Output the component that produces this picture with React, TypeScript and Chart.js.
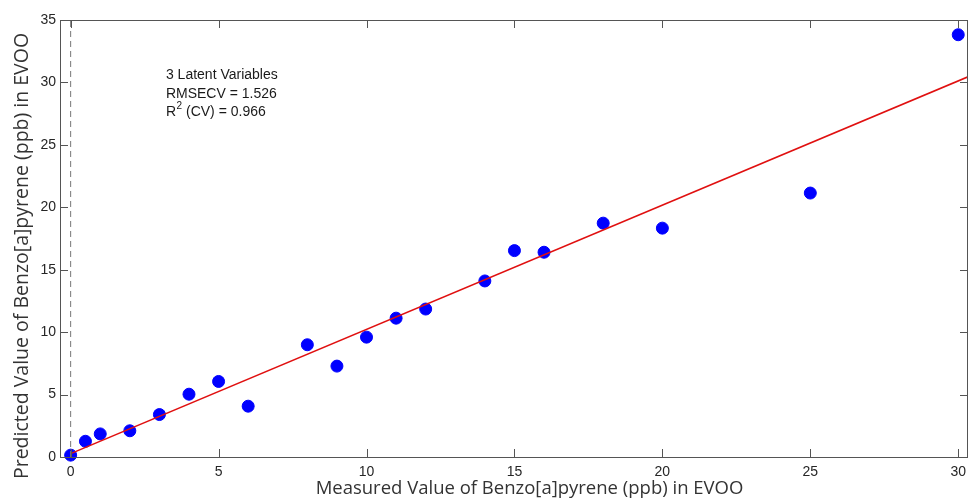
import React, { useEffect, useRef } from "react";
import { Chart, registerables } from "chart.js";

Chart.register(...registerables);

// ---- Data ----
const measured = [0, 0.5, 1, 2, 3, 4, 5, 6, 8, 9, 10, 11, 12, 14, 15, 16, 18, 20, 25, 30];
const predicted = [0.15, 1.26, 1.85, 2.1, 3.4, 5.03, 6.05, 4.07, 8.99, 7.28, 9.6, 11.12, 11.85, 14.1, 16.53, 16.4, 18.73, 18.33, 21.14, 33.82];
const fitX = [0, 30.33];
const fitY = [0.27, 30.45];
const zeroLineX = [0, 0];
const zeroLineY = [0, 35];
const xTickValues = [0, 5, 10, 15, 20, 25, 30];
const yTickValues = [0, 5, 10, 15, 20, 25, 30, 35];
const annotationLines = ["3 Latent Variables", "RMSECV = 1.526", "(CV) = 0.966"];
const xTitle = "Measured Value of Benzo[a]pyrene (ppb) in EVOO";
const yTitle = "Predicted Value of Benzo[a]pyrene (ppb) in EVOO";

const AXIS_COLOR = "#555555";
const TEXT_COLOR = "#262626";
const TITLE_FONT = "'Open Sans', sans-serif";

const boxPlugin = {
  id: "boxTicks",
  afterDatasetsDraw(chart: any) {
    const { ctx, chartArea, scales } = chart;
    const { left, right, top, bottom } = chartArea;
    ctx.save();
    ctx.strokeStyle = AXIS_COLOR;
    ctx.lineWidth = 1;
    ctx.strokeRect(left + 0.5, top + 0.5, right - left - 1, bottom - top);
    const tl = 8;
    ctx.beginPath();
    xTickValues.forEach((v) => {
      const px = Math.round(scales.x.getPixelForValue(v)) + 0.5;
      ctx.moveTo(px, bottom);
      ctx.lineTo(px, bottom - tl);
      ctx.moveTo(px, top);
      ctx.lineTo(px, top + tl);
    });
    yTickValues.forEach((v) => {
      const py = Math.round(scales.y.getPixelForValue(v)) + 0.5;
      ctx.moveTo(left, py);
      ctx.lineTo(left + tl, py);
      ctx.moveTo(right, py);
      ctx.lineTo(right - tl, py);
    });
    ctx.stroke();

    // annotation
    ctx.fillStyle = "#1a1a1a";
    ctx.font = "14px 'Liberation Sans', Arial, sans-serif";
    ctx.textBaseline = "middle";
    ctx.textAlign = "left";
    const ax = scales.x.getPixelForValue(3.22);
    const ys = [30.55, 29.08, 27.6].map((v) => scales.y.getPixelForValue(v));
    ctx.fillText(annotationLines[0], ax, ys[0]);
    ctx.fillText(annotationLines[1], ax, ys[1]);
    ctx.fillText("R", ax, ys[2]);
    const rw = ctx.measureText("R").width;
    ctx.font = "10px 'Liberation Sans', Arial, sans-serif";
    ctx.fillText("2", ax + rw + 0.5, ys[2] - 6);
    const sw = ctx.measureText("2").width;
    ctx.font = "14px 'Liberation Sans', Arial, sans-serif";
    ctx.fillText(" " + annotationLines[2], ax + rw + sw + 0.5, ys[2]);

    // axis titles
    ctx.fillStyle = "#333333";
    ctx.textBaseline = "alphabetic";
    ctx.textAlign = "center";
    ctx.font = `18.5px ${TITLE_FONT}`;
    ctx.fillText(xTitle, 529.5, 494);
    ctx.save();
    ctx.translate(28, 256);
    ctx.rotate(-Math.PI / 2);
    ctx.font = `19.5px ${TITLE_FONT}`;
    ctx.fillText(yTitle, 0, 0);
    ctx.restore();
    ctx.restore();
  },
};

export default function App() {
  const ref = useRef<HTMLCanvasElement>(null);
  useEffect(() => {
    document.body.style.margin = "0";
    const chart = new Chart(ref.current as HTMLCanvasElement, {
      type: "scatter",
      data: {
        datasets: [
          {
            type: "line",
            label: "zero",
            data: zeroLineX.map((x, i) => ({ x, y: zeroLineY[i] })),
            borderColor: "#777777",
            borderWidth: 1,
            borderDash: [6, 4],
            pointRadius: 0,
            fill: false,
          } as any,
          {
            type: "line",
            label: "fit",
            data: fitX.map((x, i) => ({ x, y: fitY[i] })),
            borderColor: "#e01010",
            borderWidth: 1.6,
            pointRadius: 0,
            fill: false,
          } as any,
          {
            label: "samples",
            data: measured.map((x, i) => ({ x, y: predicted[i] })),
            backgroundColor: "#0000ff",
            borderColor: "#0000ff",
            pointRadius: 6,
            pointHoverRadius: 6,
            clip: false,
          } as any,
        ],
      },
      options: {
        animation: false,
        responsive: true,
        maintainAspectRatio: false,
        layout: { padding: { top: 20, right: 1, left: 0, bottom: 0 } },
        plugins: { legend: { display: false }, tooltip: { enabled: false } },
        scales: {
          x: {
            type: "linear",
            min: -0.36,
            max: 30.33,
            grid: {
              display: true,
              drawOnChartArea: false,
              color: "rgba(0,0,0,0)",
              tickColor: "rgba(0,0,0,0)",
              drawTicks: true,
              tickLength: 7,
            },
            border: { display: false },
            ticks: {
              stepSize: 5,
              includeBounds: false,
              padding: 0,
              color: TEXT_COLOR,
              font: { family: "'Liberation Sans', Arial, sans-serif", size: 14 },
              maxRotation: 0,
            },
            title: { display: false },
            afterFit: (s: any) => {
              s.height = 42;
            },
          },
          y: {
            type: "linear",
            min: 0,
            max: 35,
            grid: { display: false, drawTicks: false },
            border: { display: false },
            ticks: {
              stepSize: 5,
              padding: 4,
              color: TEXT_COLOR,
              font: { family: "'Liberation Sans', Arial, sans-serif", size: 14 },
            },
            title: { display: false },
            afterFit: (s: any) => {
              s.width = 60;
            },
          },
        },
      },
      plugins: [boxPlugin],
    });
    return () => chart.destroy();
  }, []);
  return (
    <div style={{ width: 971, height: 499, overflow: "hidden" }}>
      <div style={{ position: "relative", width: 975, height: 499 }}>
        <canvas ref={ref} />
      </div>
    </div>
  );
}
